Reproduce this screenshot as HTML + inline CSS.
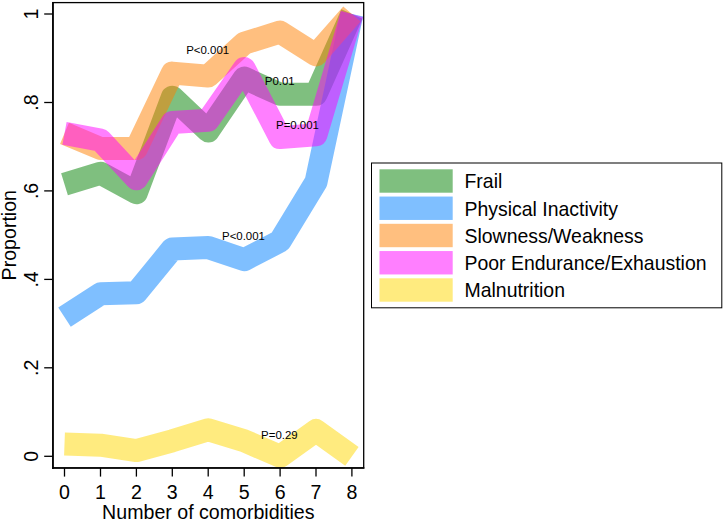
<!DOCTYPE html>
<html><head><meta charset="utf-8"><style>
html,body{margin:0;padding:0;background:#fff;overflow:hidden;}
svg{display:block;font-family:"Liberation Sans",sans-serif;}
text{fill:#000;}
</style></head><body>
<svg width="724" height="520" viewBox="0 0 724 520">
<rect width="724" height="520" fill="#fff"/>
<clipPath id="pr"><rect x="52.9" y="2.6" width="310.4" height="465.3"/></clipPath>
<g clip-path="url(#pr)">
<polyline points="64.5,184.3 100.5,173.2 136.4,192.7 172.3,97.2 208.2,131.0 244.2,78.1 280.1,94.3 316.0,94.3 351.9,14.0" fill="none" stroke="#008000" stroke-opacity="0.5" stroke-width="23.0" stroke-linejoin="round" stroke-linecap="butt"/>
<polyline points="64.5,317.2 100.5,293.8 136.4,292.8 172.3,248.9 208.2,247.5 244.2,259.7 280.1,241.1 316.0,182.1 351.9,14.0" fill="none" stroke="#0080ff" stroke-opacity="0.5" stroke-width="23.0" stroke-linejoin="round" stroke-linecap="butt"/>
<polyline points="64.5,133.4 100.5,148.5 136.4,148.5 172.3,73.1 208.2,76.1 244.2,43.2 280.1,32.1 316.0,54.9 351.9,14.0" fill="none" stroke="#ff8000" stroke-opacity="0.5" stroke-width="23.0" stroke-linejoin="round" stroke-linecap="butt"/>
<polyline points="64.5,133.4 100.5,140.1 136.4,178.8 172.3,122.4 208.2,120.2 244.2,68.6 280.1,137.6 316.0,134.7 351.9,14.0" fill="none" stroke="#ff00ff" stroke-opacity="0.5" stroke-width="23.0" stroke-linejoin="round" stroke-linecap="butt"/>
<polyline points="64.5,443.9 100.5,445.2 136.4,450.6 172.3,440.8 208.2,429.8 244.2,440.8 280.1,456.3 316.0,430.6 351.9,456.3" fill="none" stroke="#ffd700" stroke-opacity="0.5" stroke-width="23.0" stroke-linejoin="round" stroke-linecap="butt"/>
</g>
<rect x="52.9" y="2.6" width="310.8" height="465.3" fill="none" stroke="#000" stroke-width="1.3"/>
<line x1="52.95" y1="2" x2="52.95" y2="468.9" stroke="#000" stroke-width="1.6"/>
<line x1="52.15" y1="468.0" x2="364.4" y2="468.0" stroke="#000" stroke-width="1.7"/>
<line x1="64.5" y1="468" x2="64.5" y2="476.6" stroke="#000" stroke-width="1.3"/><text x="64.5" y="498.5" text-anchor="middle" font-size="19.6">0</text>
<line x1="100.5" y1="468" x2="100.5" y2="476.6" stroke="#000" stroke-width="1.3"/><text x="100.5" y="498.5" text-anchor="middle" font-size="19.6">1</text>
<line x1="136.4" y1="468" x2="136.4" y2="476.6" stroke="#000" stroke-width="1.3"/><text x="136.4" y="498.5" text-anchor="middle" font-size="19.6">2</text>
<line x1="172.3" y1="468" x2="172.3" y2="476.6" stroke="#000" stroke-width="1.3"/><text x="172.3" y="498.5" text-anchor="middle" font-size="19.6">3</text>
<line x1="208.2" y1="468" x2="208.2" y2="476.6" stroke="#000" stroke-width="1.3"/><text x="208.2" y="498.5" text-anchor="middle" font-size="19.6">4</text>
<line x1="244.2" y1="468" x2="244.2" y2="476.6" stroke="#000" stroke-width="1.3"/><text x="244.2" y="498.5" text-anchor="middle" font-size="19.6">5</text>
<line x1="280.1" y1="468" x2="280.1" y2="476.6" stroke="#000" stroke-width="1.3"/><text x="280.1" y="498.5" text-anchor="middle" font-size="19.6">6</text>
<line x1="316.0" y1="468" x2="316.0" y2="476.6" stroke="#000" stroke-width="1.3"/><text x="316.0" y="498.5" text-anchor="middle" font-size="19.6">7</text>
<line x1="351.9" y1="468" x2="351.9" y2="476.6" stroke="#000" stroke-width="1.3"/><text x="351.9" y="498.5" text-anchor="middle" font-size="19.6">8</text>

<line x1="44.2" y1="456.3" x2="52.5" y2="456.3" stroke="#000" stroke-width="1.3"/><text transform="translate(37.6,456.3) rotate(-90)" text-anchor="middle" font-size="19.6">0</text>
<line x1="44.2" y1="367.8" x2="52.5" y2="367.8" stroke="#000" stroke-width="1.3"/><text transform="translate(37.6,367.8) rotate(-90)" text-anchor="middle" font-size="19.6">.2</text>
<line x1="44.2" y1="279.4" x2="52.5" y2="279.4" stroke="#000" stroke-width="1.3"/><text transform="translate(37.6,279.4) rotate(-90)" text-anchor="middle" font-size="19.6">.4</text>
<line x1="44.2" y1="190.9" x2="52.5" y2="190.9" stroke="#000" stroke-width="1.3"/><text transform="translate(37.6,190.9) rotate(-90)" text-anchor="middle" font-size="19.6">.6</text>
<line x1="44.2" y1="102.5" x2="52.5" y2="102.5" stroke="#000" stroke-width="1.3"/><text transform="translate(37.6,102.5) rotate(-90)" text-anchor="middle" font-size="19.6">.8</text>
<line x1="44.2" y1="14.0" x2="52.5" y2="14.0" stroke="#000" stroke-width="1.3"/><text transform="translate(37.6,14.0) rotate(-90)" text-anchor="middle" font-size="19.6">1</text>

<text x="208.3" y="518.8" text-anchor="middle" font-size="19.6">Number of comorbidities</text>
<text transform="translate(16.3,235.2) rotate(-90)" text-anchor="middle" font-size="19.6">Proportion</text>
<rect x="371.5" y="163" width="350.3" height="144.8" fill="#fff" stroke="#000" stroke-width="1"/>
<rect x="379.5" y="169.30" width="73.2" height="23.4" fill="#7fbf7f"/><text x="464.5" y="188.40" font-size="19.45">Frail</text>
<rect x="379.5" y="196.55" width="73.2" height="23.4" fill="#7fbfff"/><text x="464.5" y="215.65" font-size="19.45">Physical Inactivity</text>
<rect x="379.5" y="223.80" width="73.2" height="23.4" fill="#ffbf7f"/><text x="464.5" y="242.90" font-size="19.45">Slowness/Weakness</text>
<rect x="379.5" y="251.05" width="73.2" height="23.4" fill="#ff7fff"/><text x="464.5" y="270.15" font-size="19.45">Poor Endurance/Exhaustion</text>
<rect x="379.5" y="278.30" width="73.2" height="23.4" fill="#ffeb7f"/><text x="464.5" y="297.40" font-size="19.45">Malnutrition</text>

<text x="186.2" y="54.2" font-size="11.45">P&lt;0.001</text>
<text x="264.8" y="85.4" font-size="11.45">P0.01</text>
<text x="276" y="129.3" font-size="11.45">P=0.001</text>
<text x="222" y="240" font-size="11.45">P&lt;0.001</text>
<text x="261.1" y="439" font-size="11.45">P=0.29</text>

</svg>
</body></html>
